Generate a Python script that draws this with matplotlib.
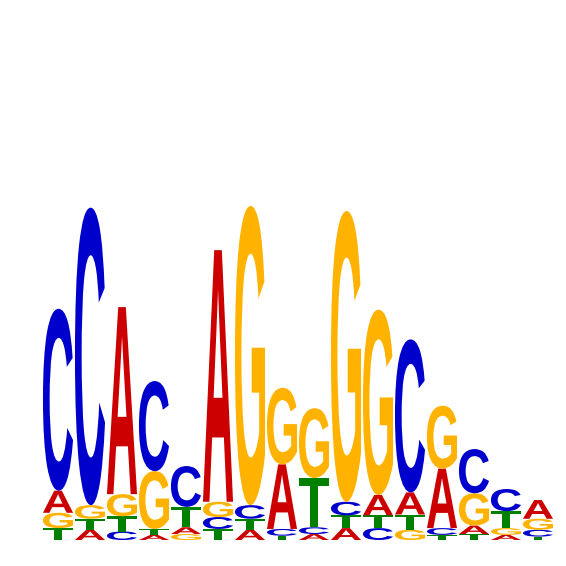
import matplotlib
matplotlib.use("Agg")
import matplotlib.pyplot as plt
from matplotlib.textpath import TextPath
from matplotlib.patches import PathPatch
from matplotlib.font_manager import FontProperties
from matplotlib.transforms import Affine2D

# letter heights in bits, one value per position (16 positions)
positions = list(range(1, 17))
bits_A = [0.13, 0.06, 1.10, 0.03, 0.04, 1.48, 0.06, 0.38, 0.035, 0.07, 0.12, 0.13, 0.35, 0.05, 0.03, 0.11]
bits_C = [1.07, 1.75, 0.05, 0.53, 0.24, 0.07, 0.08, 0.04, 0.04, 0.08, 0.07, 0.90, 0.04, 0.26, 0.13, 0.04]
bits_G = [0.09, 0.08, 0.13, 0.34, 0.035, 0.09, 1.76, 0.45, 0.41, 1.71, 1.09, 0.06, 0.37, 0.19, 0.04, 0.065]
bits_T = [0.07, 0.065, 0.09, 0.035, 0.12, 0.065, 0.065, 0.025, 0.29, 0.075, 0.075, 0.09, 0.03, 0.035, 0.10, 0.02]

colors = {'A': '#CC0000', 'C': '#0000CC', 'G': '#FFB300', 'T': '#008000'}
font = FontProperties(family='Liberation Sans', weight='bold')


def draw_letter(ax, letter, x, y, w, h):
    tp = TextPath((0, 0), letter, size=1, prop=font)
    ext = tp.get_extents()
    tr = Affine2D().translate(-ext.x0, -ext.y0) \
        .scale(w / ext.width, h / ext.height) \
        .translate(x, y)
    ax.add_patch(PathPatch(tr.transform_path(tp), fc=colors[letter], ec='none'))


fig = plt.figure(figsize=(5.66, 5.66), dpi=100)
ax = fig.add_axes([42 / 566, 26 / 566, 512 / 566, 340 / 566])

width = 0.94
for i, pos in enumerate(positions):
    col = {'A': bits_A[i], 'C': bits_C[i], 'G': bits_G[i], 'T': bits_T[i]}
    y = 0.0
    # smallest letter at the bottom, largest on top
    for letter, h in sorted(col.items(), key=lambda kv: kv[1]):
        draw_letter(ax, letter, pos - width / 2, y, width, h)
        y += h

ax.set_xlim(0.5, 16.5)
ax.set_ylim(0, 2)
ax.axis('off')

fig.savefig('out.png', dpi=100)
